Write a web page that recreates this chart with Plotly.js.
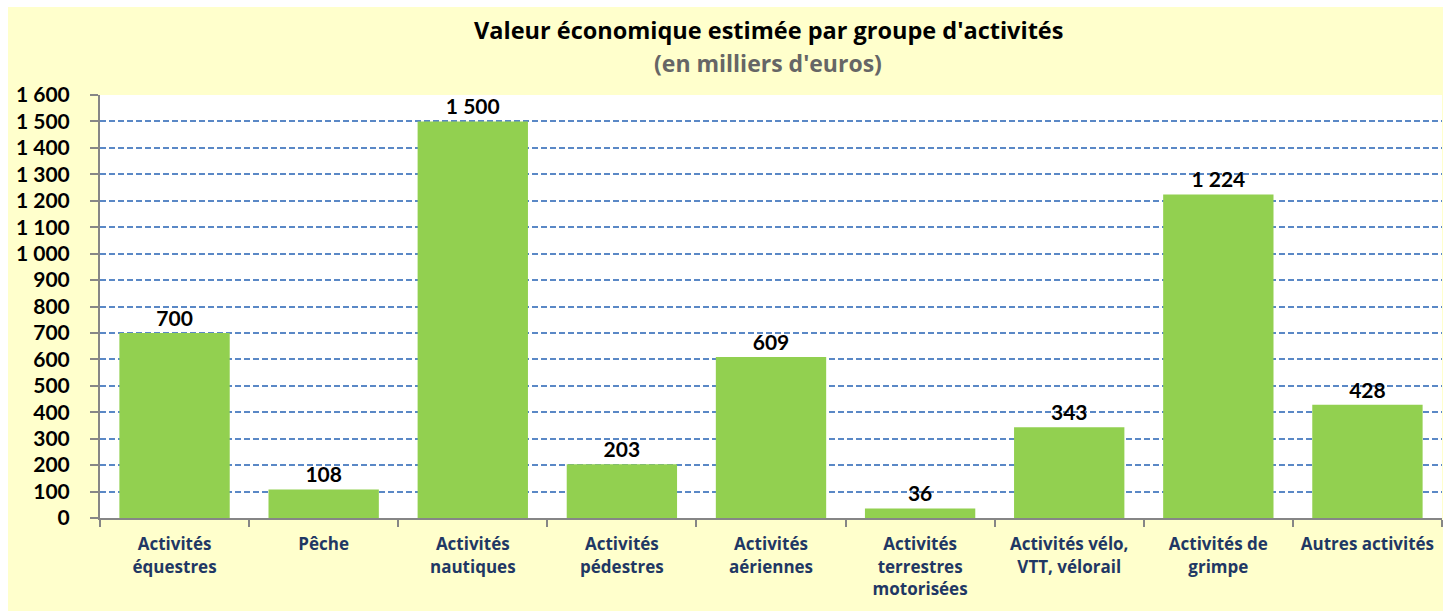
<!DOCTYPE html>
<html>
<head>
<meta charset="utf-8">
<script src="https://cdn.plot.ly/plotly-3.0.1.min.js"></script>
<style>
  html, body { margin: 0; padding: 0; background: #ffffff; width: 1446px; height: 611px; overflow: hidden; }
  #frame { position: absolute; left: 8px; top: 7px; width: 1435px; height: 604px; background: #FFFFCC; }
  #chart { width: 1435px; height: 604px; }
</style>
</head>
<body>
<div id="frame"><div id="chart"></div></div>
<script>
const categories = [
  "Activités<br>équestres",
  "Pêche",
  "Activités<br>nautiques",
  "Activités<br>pédestres",
  "Activités<br>aériennes",
  "Activités<br>terrestres<br>motorisées",
  "Activités vélo,<br>VTT, vélorail",
  "Activités de<br>grimpe",
  "Autres activités"
];
const values = [700, 108, 1500, 203, 609, 36, 343, 1224, 428];
const tickValues = [0, 100, 200, 300, 400, 500, 600, 700, 800, 900, 1000, 1100, 1200, 1300, 1400, 1500, 1600];

function fmt(v) {
  return String(v).replace(/\B(?=(\d{3})+(?!\d))/g, " ");
}

const NUMFONT = "Lato, 'Open Sans', sans-serif";
const TXTFONT = "'Open Sans', Lato, sans-serif";

const trace = {
  type: "bar",
  x: categories,
  y: values,
  text: values.map(fmt),
  textposition: "outside",
  cliponaxis: false,
  textfont: { family: NUMFONT, size: 21, color: "#000000", weight: "bold" },
  marker: { color: "#92D050", line: { width: 0 } },
  hoverinfo: "x+y"
};

const layout = {
  width: 1435,
  height: 604,
  margin: { l: 92, r: 1, t: 88, b: 93 },
  paper_bgcolor: "rgba(0,0,0,0)",
  plot_bgcolor: "#FFFFFF",
  bargap: 0.26,
  showlegend: false,
  font: { family: TXTFONT },
  xaxis: {
    type: "category",
    showline: true,
    linecolor: "#868686",
    linewidth: 2,
    ticks: "outside",
    tickson: "boundaries",
    ticklen: 7,
    tickwidth: 2,
    tickcolor: "#868686",
    showgrid: false,
    tickfont: { family: TXTFONT, size: 17, color: "#1F3864", weight: "bold" },
    ticklabelstandoff: 10
  },
  yaxis: {
    range: [0, 1600],
    tickvals: tickValues,
    ticktext: tickValues.map(fmt),
    showline: true,
    linecolor: "#868686",
    linewidth: 2,
    ticks: "outside",
    ticklen: 8,
    tickwidth: 2,
    tickcolor: "#868686",
    showgrid: true,
    gridcolor: "#5A88C6",
    gridwidth: 2,
    griddash: "6px,3px",
    zeroline: false,
    tickfont: { family: NUMFONT, size: 21, color: "#000000", weight: "bold" },
    ticklabelstandoff: 16
  },
  annotations: [
    {
      text: "Valeur économique estimée par groupe d'activités",
      xref: "paper", yref: "paper", x: 0.498, y: 1.154,
      xanchor: "center", yanchor: "middle", showarrow: false,
      font: { family: TXTFONT, size: 23.5, color: "#000000", weight: "bold" }
    },
    {
      text: "(en milliers d'euros)",
      xref: "paper", yref: "paper", x: 0.498, y: 1.075,
      xanchor: "center", yanchor: "middle", showarrow: false,
      font: { family: TXTFONT, size: 23, color: "#666666", weight: "bold" }
    }
  ]
};

Plotly.newPlot("chart", [trace], layout, { displayModeBar: false, staticPlot: true });
</script>
</body>
</html>
